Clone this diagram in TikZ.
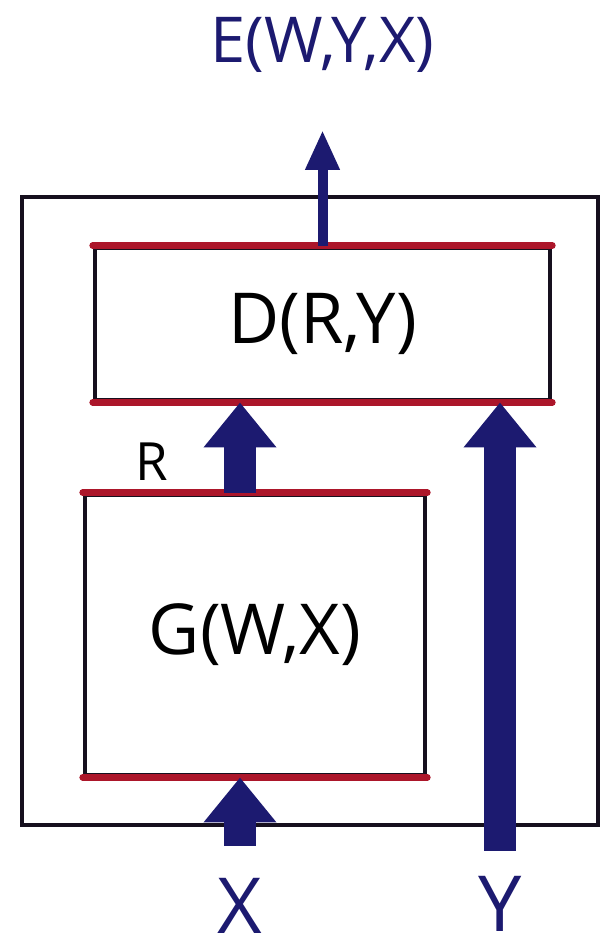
\documentclass[tikz,border=0pt]{standalone}
\usepackage{fontspec}
\setmainfont{Open Sans}
\usetikzlibrary{positioning,arrows.meta,calc}

\definecolor{inkblue}{RGB}{28,26,112}
\definecolor{inkred}{RGB}{172,22,42}
\definecolor{inkblack}{RGB}{22,16,30}

\begin{document}
\begin{tikzpicture}[
    font=\fontsize{20}{22}\selectfont,
    box/.style={
        draw=inkblack,
        line width=1.4pt,
        inner sep=0pt,
        align=center
    },
    redline/.style={
        draw=inkred,
        line width=1.8pt,
        line cap=round
    },
    fatarrow/.style={
        -{Triangle[width=0.7cm,length=0.45cm]},
        line width=0.32cm,
        draw=inkblue
    },
    thinarrow/.style={
        -{Triangle[width=0.32cm,length=0.4cm]},
        line width=0.1cm,
        draw=inkblue
    },
    varlabel/.style={
        text=inkblue,
        font=\fontsize{22}{24}\selectfont
    }
]

\useasboundingbox (0,0) rectangle (6.04,9.48);

% Outer energy box
\node[box, minimum width=5.76cm, minimum height=6.28cm] (outer) at (3.1,4.37) {};

% Decoder and generator
\node[box, minimum width=4.55cm, minimum height=1.52cm] (D) at (3.225,6.24) {D(R,Y)};
\node[box, minimum width=3.4cm, minimum height=2.8cm] (G) at (2.55,3.13) {G(W,X)};

% Red top and bottom edges
\foreach \b in {D,G} {
    \draw[redline] (\b.north west) -- (\b.north east);
    \draw[redline] (\b.south west) -- (\b.south east);
}

% Inputs and output
\node[varlabel] (xin) at (2.4,0.42) {X};
\node[varlabel] (yin) at (5.0,0.44) {Y};
\node[text=inkblue, font=\fontsize{18}{20}\selectfont] (E) at (3.225,9.03) {E(W,Y,X)};
\node[font=\fontsize{15}{17}\selectfont] (rlab) at (1.52,4.86) {R};

% Arrows
\draw[fatarrow, shorten <=0.2cm] (xin.north) -- (G.south -| xin);
\draw[fatarrow] (G.north -| xin) -- (D.south -| xin);
\draw[fatarrow, shorten <=0.13cm] (yin.north) -- (D.south -| yin);
\draw[thinarrow, shorten >=0.45cm] (D.north) -- (E.south);

\end{tikzpicture}
\end{document}
